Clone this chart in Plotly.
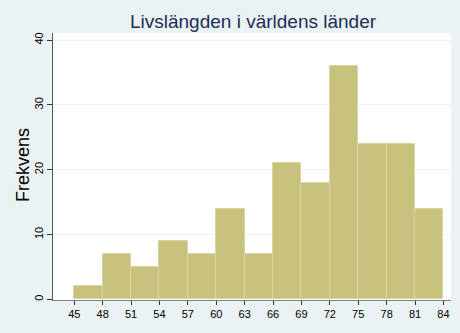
import plotly.graph_objects as go

bin_starts = [45, 48, 51, 54, 57, 60, 63, 66, 69, 72, 75, 78, 81]
counts = [2, 7, 5, 9, 7, 14, 7, 21, 18, 36, 24, 24, 14]
bin_width = 3
x_ticks = [45, 48, 51, 54, 57, 60, 63, 66, 69, 72, 75, 78, 81, 84]
y_ticks = [0, 10, 20, 30, 40]
title_text = "Livslängden i världens länder"
y_title = "Frekvens"

centers = [s + bin_width / 2 for s in bin_starts]

fig = go.Figure()
fig.add_trace(go.Bar(
    x=centers, y=counts, width=[bin_width] * len(counts),
    marker=dict(color="#C8C27E", line=dict(color="#DAD6A4", width=1)),
    hoverinfo="x+y",
))

font = "Liberation Sans, Arial, sans-serif"
fig.update_layout(
    width=460, height=333,
    margin=dict(l=53, r=9, t=33, b=33),
    paper_bgcolor="#EAF2F3",
    plot_bgcolor="#FFFFFF",
    showlegend=False,
    bargap=0,
    font=dict(family=font, color="#000000", size=11),
    title=dict(text=title_text, x=253 / 460, xanchor="center",
               y=1 - 21 / 333, yanchor="middle", yref="container",
               font=dict(family=font, size=19, color="#1E2D53")),
    annotations=[dict(text=y_title, xref="paper", yref="paper",
                      x=(23 - 53) / 398, y=(300 - 165) / 267, xanchor="center", yanchor="middle",
                      textangle=-90, showarrow=False,
                      font=dict(family=font, size=18, color="#000000"))],
)
fig.update_xaxes(
    range=[42.75, 84.8], tickvals=x_ticks, ticktext=[str(v) for v in x_ticks],
    showgrid=False, zeroline=False,
    showline=True, linecolor="#7F7F7F", linewidth=1,
    ticks="outside", ticklen=4, tickcolor="#333333", tickwidth=1,
    tickfont=dict(size=11, color="#000000"),
)
fig.update_yaxes(
    range=[-0.1, 41.1], tickvals=y_ticks, ticktext=[str(v) for v in y_ticks],
    showgrid=True, gridcolor="#EAF2F3", gridwidth=1, zeroline=False,
    showline=True, linecolor="#555555", linewidth=1,
    ticks="outside", ticklen=5, tickcolor="#333333", tickwidth=1,
    tickangle=-90, tickfont=dict(size=11, color="#000000"),
)
fig.write_html("out.html")
